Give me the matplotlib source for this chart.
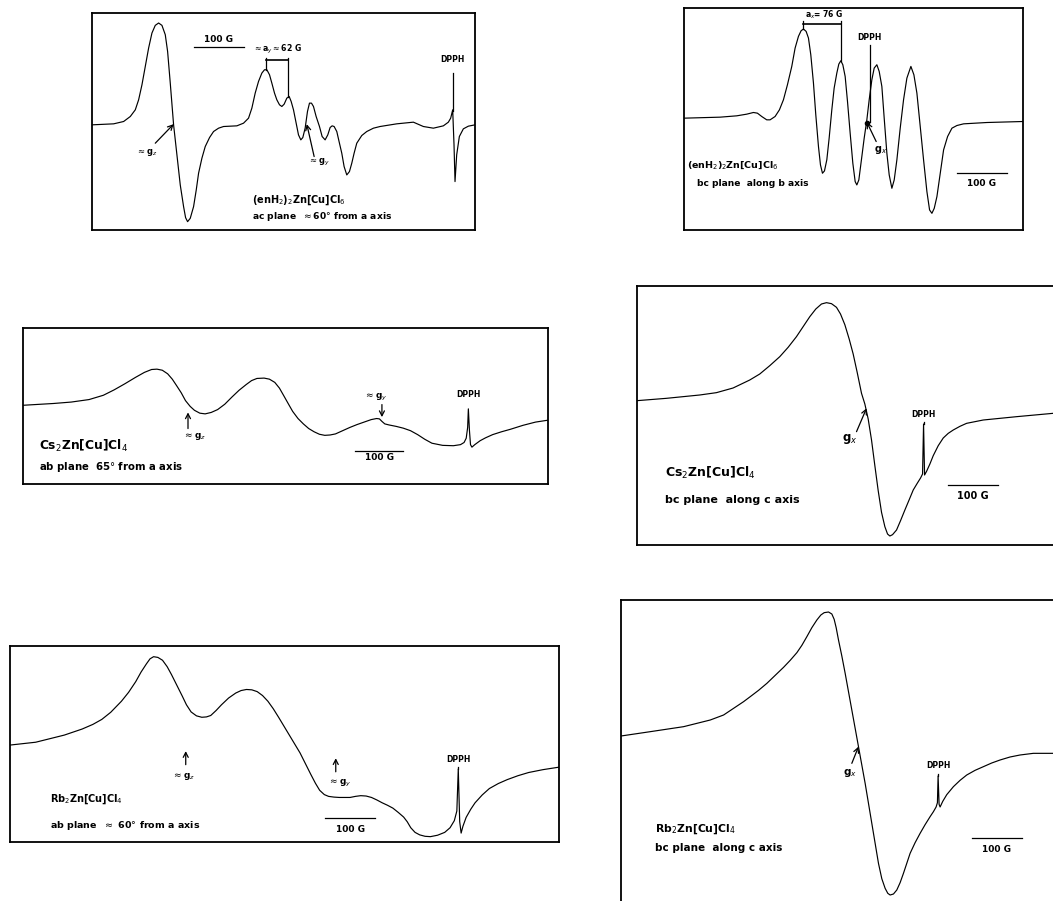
import numpy as np
import matplotlib
matplotlib.use("Agg")
import matplotlib.pyplot as plt

# EPR spectra of Cu(2+) doped into zinc tetrachloride hosts.
# field: position along the sweep (chart units), signal: derivative amplitude

# (enH2)2Zn[Cu]Cl6, ac plane ~60 deg from a axis
p1_field = [35, 100, 130, 150, 165, 175, 185, 195, 205, 215, 225, 235, 245, 255, 262,
            270, 280, 290, 300, 310, 316, 322, 330, 340, 348, 355, 365, 375, 388, 400,
            415, 430, 470, 490, 505, 515, 525, 535, 545, 553, 560, 568, 575, 583, 590,
            598, 605, 612, 620, 627, 633, 640, 648, 655, 662, 668, 675, 682, 688, 694,
            700, 708, 718, 726, 735, 743, 750, 756, 762, 770, 778, 785, 792, 800, 808,
            815, 822, 830, 845, 860, 880, 900, 950, 1000, 1030, 1060, 1090, 1105, 1112,
            1118, 1122, 1125, 1130, 1138, 1150, 1165, 1185]
p1_signal = [0, 3, 10, 25, 45, 75, 120, 175, 230, 275, 298, 305, 298, 270, 220,
             125, 0, -90, -180, -245, -278, -290, -280, -245, -195, -145, -100, -65, -38, -20,
             -10, -5, -3, 5, 20, 50, 95, 130, 155, 165, 165, 150, 125, 95, 75,
             60, 55, 62, 80, 85, 70, 45, 5, -30, -45, -38, -10, 40, 65, 65,
             55, 25, -5, -35, -45, -30, -8, -3, -5, -20, -55, -85, -125, -150, -140,
             -115, -85, -55, -32, -20, -10, -5, 3, 8, -5, -10, -3, 8, 20,
             45, -60, -170, -90, -35, -12, -4, 0]

# (enH2)2Zn[Cu]Cl6, bc plane along b axis
p2_field = [42, 150, 200, 230, 250, 262, 275, 290, 300, 315, 328, 340, 352, 365, 375,
            385, 393, 400, 408, 415, 422, 430, 437, 445, 451, 457, 463, 470, 477, 485,
            492, 500, 506, 512, 518, 525, 532, 540, 548, 555, 560, 566, 575, 582, 590,
            597, 605, 612, 620, 627, 635, 642, 650, 657, 665, 672, 680, 690, 700, 710,
            722, 731, 740, 750, 760, 770, 778, 785, 792, 800, 810, 820, 832, 845, 860,
            880, 950, 1058]
p2_signal = [0, 3, 7, 12, 17, 15, 5, -5, -5, 5, 25, 55, 100, 155, 210,
             245, 262, 267, 260, 240, 190, 105, 10, -85, -140, -165, -158, -125, -60, 25,
             90, 135, 162, 172, 160, 125, 50, -45, -135, -190, -200, -185, -115, -60, -5,
             55, 115, 150, 160, 140, 95, 0, -105, -170, -210, -185, -125, -30, 55, 120,
             155, 130, 75, -25, -125, -220, -275, -285, -270, -235, -165, -95, -55, -30, -22,
             -17, -13, -10]

# Cs2Zn[Cu]Cl4, ab plane 65 deg from a axis
p3_field = [65, 150, 200, 250, 290, 320, 350, 380, 405, 425, 440, 455, 470, 483, 495,
            508, 520, 533, 545, 560, 575, 592, 610, 630, 650, 670, 690, 705, 720, 740,
            755, 770, 783, 795, 808, 820, 835, 850, 865, 880, 895, 910, 925, 940, 960,
            980, 1000, 1020, 1040, 1055, 1063, 1070, 1078, 1090, 1110, 1130, 1150, 1170, 1190, 1210,
            1240, 1270, 1290, 1300, 1306, 1310, 1312, 1315, 1318, 1322, 1330, 1345, 1360, 1380, 1405,
            1430, 1465, 1500, 1565]
p3_signal = [0, 5, 9, 16, 28, 43, 60, 78, 92, 100, 101, 98, 88, 73, 55,
             35, 13, -3, -14, -22, -24, -20, -12, 3, 23, 42, 58, 69, 75, 76,
             73, 64, 48, 27, 4, -17, -37, -52, -65, -74, -81, -84, -83, -80, -71,
             -62, -54, -47, -40, -37, -38, -45, -52, -55, -59, -64, -71, -82, -95, -106,
             -112, -113, -110, -104, -92, -62, -10, -70, -110, -117, -110, -99, -91, -82, -74,
             -67, -56, -47, -37]

# Cs2Zn[Cu]Cl4, bc plane along c axis
p4_field = [112, 200, 300, 350, 400, 450, 480, 510, 540, 565, 590, 610, 630, 648, 665,
            680, 695, 710, 722, 735, 748, 760, 772, 785, 795, 805, 815, 825, 835, 845,
            855, 863, 870, 878, 890, 902, 915, 928, 940, 952, 962, 968, 971, 974, 980,
            990, 1000, 1015, 1030, 1045, 1060, 1080, 1100, 1150, 1250, 1359]
p4_signal = [0, 7, 17, 24, 38, 62, 80, 105, 132, 160, 192, 222, 252, 275, 290,
             294, 291, 280, 260, 228, 185, 140, 85, 22, -10, -55, -118, -195, -270, -335,
             -378, -400, -406, -402, -388, -360, -328, -297, -268, -248, -232, -220, -70, -223, -212,
             -190, -165, -135, -112, -98, -88, -77, -68, -58, -48, -38]

# Rb2Zn[Cu]Cl4, ab plane ~60 deg from a axis
p5_field = [28, 100, 180, 230, 260, 285, 310, 340, 360, 380, 395, 410, 420, 430, 442,
            455, 468, 480, 495, 510, 522, 535, 550, 565, 578, 590, 605, 620, 640, 660,
            675, 690, 705, 720, 735, 750, 765, 780, 795, 810, 825, 840, 855, 870, 883,
            895, 908, 920, 935, 950, 980, 995, 1010, 1025, 1040, 1055, 1070, 1085, 1100, 1115,
            1130, 1140, 1150, 1162, 1175, 1190, 1205, 1225, 1245, 1260, 1272, 1279, 1283, 1287, 1291,
            1296, 1305, 1318, 1330, 1350, 1370, 1395, 1420, 1450, 1480, 1520, 1565]
p5_signal = [0, 8, 28, 45, 58, 72, 92, 123, 148, 178, 205, 228, 242, 248, 246,
             238, 220, 198, 168, 138, 113, 93, 82, 78, 79, 83, 97, 113, 132, 146,
             153, 156, 155, 150, 139, 123, 102, 78, 53, 28, 3, -22, -52, -82, -107,
             -127, -139, -144, -146, -147, -147, -144, -142, -143, -147, -154, -162, -169, -177, -189,
             -202, -215, -232, -245, -252, -256, -257, -253, -245, -232, -212, -185, -67, -215, -247,
             -228, -203, -180, -162, -140, -122, -108, -97, -86, -77, -69, -62]

# Rb2Zn[Cu]Cl4, bc plane along c axis
p6_field = [62, 150, 250, 330, 370, 400, 430, 450, 475, 500, 525, 550, 570, 590, 605,
            620, 635, 650, 662, 672, 685, 695, 702, 708, 715, 725, 735, 745, 755, 765,
            775, 785, 795, 805, 815, 825, 835, 845, 855, 863, 870, 880, 890, 900, 910,
            920, 930, 945, 960, 975, 990, 1000, 1008, 1012, 1014, 1017, 1020, 1028, 1040, 1060,
            1080, 1100, 1125, 1150, 1175, 1200, 1230, 1260, 1300, 1359]
p6_signal = [0, 13, 28, 48, 63, 83, 103, 118, 137, 158, 182, 206, 227, 250, 272,
             298, 325, 348, 363, 370, 372, 366, 350, 325, 288, 240, 188, 133, 78, 23,
             -32, -87, -142, -202, -262, -322, -382, -428, -457, -472, -477, -474, -462, -440, -412,
             -382, -352, -320, -292, -266, -242, -227, -213, -200, -120, -205, -213, -196, -176, -152,
             -133, -117, -103, -92, -81, -72, -63, -57, -52, -52]

W, H = 1053, 901
fig = plt.figure(figsize=(W / 100, H / 100), dpi=100)
fig.patch.set_facecolor("white")

TXT = dict(color="black", fontweight="bold", family="DejaVu Sans")
ARROW = dict(arrowstyle="->,head_length=0.35,head_width=0.18", color="black", lw=0.9,
             shrinkA=0, shrinkB=0)


def panel(left, top, right, bottom, field, signal, xlim, ylim):
    # box given in pixels of the whole figure
    ax = fig.add_axes([left / W, 1 - bottom / H, (right - left) / W, (bottom - top) / H])
    ax.plot(field, signal, color="black", lw=0.85, solid_joinstyle="round")
    ax.set_xlim(*xlim)
    ax.set_ylim(*ylim)
    ax.set_xticks([])
    ax.set_yticks([])
    for sp in ax.spines.values():
        sp.set_linewidth(1.3)
    return ax


def scale_bar(ax, x0, x1, y, ty, size=6.5):
    ax.plot([x0, x1], [y, y], color="black", lw=0.9)
    ax.text((x0 + x1) / 2, ty, "100 G", fontsize=size, ha="center", va="center", **TXT)


def dpph(ax, x, y_top, y_bot, ty):
    ax.plot([x, x], [y_top, y_bot], color="black", lw=0.9)
    ax.text(x, ty, "DPPH", fontsize=5.5, ha="center", va="center", **TXT)


def arrow(ax, label, xy, xytext, tx, ty, size=7):
    ax.annotate("", xy=xy, xytext=xytext, arrowprops=ARROW)
    ax.text(tx, ty, label, fontsize=size, ha="center", va="center", **TXT)


def caption(ax, x, y1, y2, name, plane, s1, s2, x2=None):
    ax.text(x, y1, name, fontsize=s1, ha="left", va="center", **TXT)
    ax.text(x if x2 is None else x2, y2, plane, fontsize=s2, ha="left", va="center", **TXT)


# --- (enH2)2Zn[Cu]Cl6, ac plane ---
ax1 = panel(92, 13, 475, 230, p1_field, p1_signal, (35, 1185), (-315, 335))
scale_bar(ax1, 340, 490, 233, 255)
pk1 = np.interp(558, p1_field, p1_signal)
pk2 = np.interp(625, p1_field, p1_signal)
ax1.plot([558, 558], [pk1, 201], color="black", lw=0.9)
ax1.plot([625, 625], [pk2, 201], color="black", lw=0.9)
ax1.plot([558, 625], [193, 193], color="black", lw=1.2)
ax1.text(592, 225, r"$\approx$a$_y$$\approx$62 G", fontsize=5.6, ha="center", va="center", **TXT)
dpph(ax1, 1118, 155, 40, 195)
arrow(ax1, r"$\approx$g$_z$", (280, 2), (225, -55), 200, -82, 6)
arrow(ax1, r"$\approx$g$_y$", (680, 2), (702, -95), 715, -112, 6)
caption(ax1, 515, -225, -275, r"(enH$_2$)$_2$Zn[Cu]Cl$_6$",
        r"ac plane  $\approx$60$\degree$ from a axis", 7, 6.6)

# --- (enH2)2Zn[Cu]Cl6, bc plane ---
ax2 = panel(684, 8, 1023, 230, p2_field, p2_signal, (42, 1058), (-335, 330))
pa = np.interp(400, p2_field, p2_signal)
pb = np.interp(512, p2_field, p2_signal)
ax2.plot([400, 400], [pa, 291], color="black", lw=0.9)
ax2.plot([512, 512], [pb, 291], color="black", lw=0.9)
ax2.plot([400, 512], [283, 283], color="black", lw=1.2)
ax2.text(462, 310, r"a$_x$= 76 G", fontsize=5.5, ha="center", va="center", **TXT)
dpph(ax2, 598, 220, -10, 242)
ax2.plot([590], [-15], "o", color="black", ms=3)
arrow(ax2, r"g$_x$", (590, -12), (618, -70), 632, -95, 7)
scale_bar(ax2, 860, 1010, -163, -195)
caption(ax2, 50, -140, -195, r"(enH$_2$)$_2$Zn[Cu]Cl$_6$", "bc plane  along b axis",
        6.8, 6.6, x2=80)

# --- Cs2Zn[Cu]Cl4, ab plane ---
ax3 = panel(23, 328, 548, 484, p3_field, p3_signal, (65, 1535), (-220, 216))
arrow(ax3, r"$\approx$g$_z$", (527, -20), (527, -65), 545, -88, 6.5)
arrow(ax3, r"$\approx$g$_y$", (1070, -33), (1070, 2), 1052, 23, 6.5)
scale_bar(ax3, 995, 1130, -127, -147)
dpph(ax3, 1312, -10, -10, 30)
caption(ax3, 110, -114, -172, r"Cs$_2$Zn[Cu]Cl$_4$", r"ab plane  65$\degree$ from a axis",
        8.8, 7.3)

# --- Cs2Zn[Cu]Cl4, bc plane ---
ax4 = panel(637, 286, 1055, 545, p4_field, p4_signal, (112, 1365), (-433, 344))
arrow(ax4, r"g$_x$", (800, -23), (770, -93), 750, -115, 8.5)
dpph(ax4, 971, -63, -70, -43)
scale_bar(ax4, 1045, 1195, -253, -286, 7)
caption(ax4, 195, -218, -298, r"Cs$_2$Zn[Cu]Cl$_4$", "bc plane  along c axis", 9, 8)

# --- Rb2Zn[Cu]Cl4, ab plane ---
ax5 = panel(10, 646, 559, 842, p5_field, p5_signal, (28, 1565), (-272, 278))
arrow(ax5, r"$\approx$g$_z$", (520, -17), (520, -55), 515, -87, 6.5)
arrow(ax5, r"$\approx$g$_y$", (940, -37), (940, -75), 950, -107, 6.5)
dpph(ax5, 1283, -62, -67, -40)
scale_bar(ax5, 910, 1050, -205, -237)
caption(ax5, 140, -152, -225, r"Rb$_2$Zn[Cu]Cl$_4$",
        r"ab plane  $\approx$ 60$\degree$ from a axis", 7, 6.8)

# --- Rb2Zn[Cu]Cl4, bc plane ---
ax6 = panel(621, 600, 1055, 903, p6_field, p6_signal, (62, 1365), (-501, 408))
arrow(ax6, r"g$_x$", (775, -32), (755, -82), 748, -112, 7.5)
dpph(ax6, 1014, -115, -120, -90)
scale_bar(ax6, 1115, 1265, -307, -340)
caption(ax6, 165, -280, -337, r"Rb$_2$Zn[Cu]Cl$_4$", "bc plane  along c axis", 7.8, 7.5)

fig.savefig("out.png", dpi=100, facecolor="white")
